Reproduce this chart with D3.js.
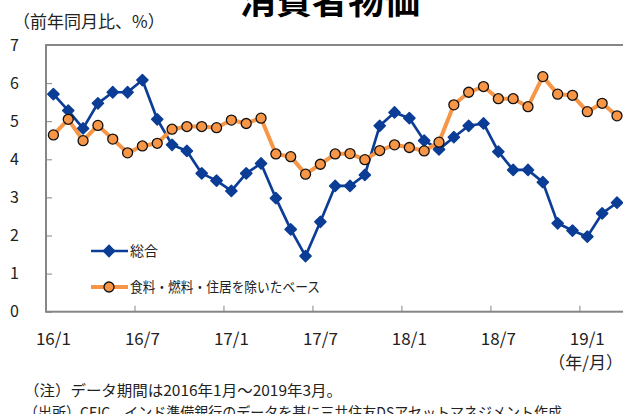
<!DOCTYPE html>
<html>
<head>
<meta charset="utf-8">
<script src="https://cdn.jsdelivr.net/npm/d3@7"></script>
<style>
  html, body { margin: 0; padding: 0; background: #fff; }
  svg { display: block; font-family: "Noto Sans CJK JP", "Noto Sans", sans-serif; }
</style>
</head>
<body>
<svg id="chart" width="623" height="414"></svg>
<script>
var months = [
    '2016-01', '2016-02', '2016-03', '2016-04', '2016-05', '2016-06',
    '2016-07', '2016-08', '2016-09', '2016-10', '2016-11', '2016-12',
    '2017-01', '2017-02', '2017-03', '2017-04', '2017-05', '2017-06',
    '2017-07', '2017-08', '2017-09', '2017-10', '2017-11', '2017-12',
    '2018-01', '2018-02', '2018-03', '2018-04', '2018-05', '2018-06',
    '2018-07', '2018-08', '2018-09', '2018-10', '2018-11', '2018-12',
    '2019-01', '2019-02', '2019-03'
];

// 総合
var headline = [
    5.71, 5.28, 4.81, 5.47, 5.76, 5.76, 6.08, 5.05, 4.38, 4.22, 3.63, 3.44,
    3.17, 3.63, 3.89, 2.98, 2.16, 1.46, 2.36, 3.30, 3.30, 3.59, 4.88, 5.23,
    5.08, 4.49, 4.26, 4.58, 4.88, 4.94, 4.20, 3.72, 3.72, 3.40, 2.32, 2.13,
    1.97, 2.58, 2.86
];

// 食料・燃料・住居を除いたベース
var core = [
    4.64, 5.05, 4.49, 4.89, 4.53, 4.17, 4.35, 4.42, 4.79, 4.86, 4.86, 4.83,
    5.03, 4.94, 5.08, 4.14, 4.07, 3.61, 3.87, 4.14, 4.15, 3.99, 4.23, 4.38,
    4.31, 4.22, 4.45, 5.43, 5.76, 5.91, 5.59, 5.59, 5.38, 6.17, 5.71, 5.68,
    5.25, 5.47, 5.14
];

var tickMonths = ['2016-01', '2016-07', '2017-01', '2017-07', '2018-01', '2018-07', '2019-01'];
var tickLabels = ['16/1', '16/7', '17/1', '17/7', '18/1', '18/7', '19/1'];
var yTicks = [0, 1, 2, 3, 4, 5, 6, 7];

var seriesNames = ['総合', '食料・燃料・住居を除いたベース'];

var blue = '#0b3d96',
    orange = '#f79646',
    axisGray = '#868686';

var svg = d3.select('#chart');

var x = d3.scaleBand().domain(months).range([46, 624.4]).padding(0),
    y = d3.scaleLinear().domain([0, 7]).range([311.7, 45]);

function cx(d, i) {
    return x(months[i]) + x.bandwidth() / 2;
}

// title (top cut off as in the original)
svg.append('text')
    .attr('x', 330)
    .attr('y', 14)
    .attr('text-anchor', 'middle')
    .attr('font-size', 36)
    .attr('font-weight', 'bold')
    .attr('fill', '#000')
    .text('消費者物価');

svg.append('text')
    .attr('x', 13)
    .attr('y', 28)
    .attr('font-size', 17)
    .attr('fill', '#222')
    .text('（前年同月比、%）');

// plot frame
svg.append('rect')
    .attr('x', x.range()[0])
    .attr('y', y(7))
    .attr('width', x.range()[1] - x.range()[0])
    .attr('height', y(0) - y(7))
    .attr('fill', 'none')
    .attr('stroke', axisGray)
    .attr('stroke-width', 2);

// y axis
var yAxis = svg.append('g')
    .attr('transform', 'translate(46,0)')
    .call(d3.axisLeft(y).tickValues(yTicks).tickFormat(d3.format('d'))
        .tickSizeInner(-6).tickSizeOuter(0).tickPadding(27));
yAxis.select('.domain').remove();
yAxis.selectAll('line').attr('stroke', axisGray).attr('stroke-width', 1);
yAxis.selectAll('text')
    .attr('font-size', 16)
    .attr('fill', '#222')
    .attr('font-family', '"Noto Sans CJK JP", sans-serif');

// x axis ticks sit on the category boundaries, labels in the category centre
var xAxis = svg.append('g');
xAxis.selectAll('line')
    .data(tickMonths.slice(1))
    .enter()
    .append('line')
        .attr('x1', function(d) { return x(d); })
        .attr('x2', function(d) { return x(d); })
        .attr('y1', y(0))
        .attr('y2', y(0) - 6)
        .attr('stroke', axisGray)
        .attr('stroke-width', 1);

xAxis.selectAll('text')
    .data(tickMonths)
    .enter()
    .append('text')
        .attr('x', function(d) { return x(d) + x.bandwidth() / 2; })
        .attr('y', 345)
        .attr('text-anchor', 'middle')
        .attr('font-size', 17)
        .attr('fill', '#222')
        .text(function(d, i) { return tickLabels[i]; });

svg.append('text')
    .attr('x', 623)
    .attr('y', 369)
    .attr('text-anchor', 'end')
    .attr('font-size', 17)
    .attr('fill', '#222')
    .text('（年/月）');

// headline series
var line = d3.line()
    .x(cx)
    .y(function(d) { return y(d); });

svg.append('path')
    .datum(headline)
    .attr('d', line)
    .attr('fill', 'none')
    .attr('stroke', blue)
    .attr('stroke-width', 2.7)
    .attr('stroke-linejoin', 'round');

var diamond = d3.symbol().type(d3.symbolDiamond2).size(80);

svg.append('g').selectAll('path')
    .data(headline)
    .enter()
    .append('path')
        .attr('d', diamond)
        .attr('transform', function(d, i) {
            return 'translate(' + cx(d, i) + ',' + y(d) + ')';
        })
        .attr('fill', blue)
        .attr('stroke', blue)
        .attr('stroke-width', 1.5)
        .attr('stroke-linejoin', 'round');

// core series
svg.append('path')
    .datum(core)
    .attr('d', line)
    .attr('fill', 'none')
    .attr('stroke', orange)
    .attr('stroke-width', 4)
    .attr('stroke-linejoin', 'round');

svg.append('g').selectAll('circle')
    .data(core)
    .enter()
    .append('circle')
        .attr('cx', cx)
        .attr('cy', function(d) { return y(d); })
        .attr('r', 5)
        .attr('fill', orange)
        .attr('stroke', '#111')
        .attr('stroke-width', 1.3);

// legend
var legend = svg.append('g');
var legendY = [251, 287];

legend.append('line')
    .attr('x1', 91).attr('x2', 128)
    .attr('y1', legendY[0]).attr('y2', legendY[0])
    .attr('stroke', blue).attr('stroke-width', 2.7);
legend.append('path')
    .attr('d', diamond)
    .attr('transform', 'translate(109,' + legendY[0] + ')')
    .attr('fill', blue).attr('stroke', blue).attr('stroke-width', 1.5);

legend.append('line')
    .attr('x1', 91).attr('x2', 128)
    .attr('y1', legendY[1]).attr('y2', legendY[1])
    .attr('stroke', orange).attr('stroke-width', 4);
legend.append('circle')
    .attr('cx', 109).attr('cy', legendY[1]).attr('r', 5)
    .attr('fill', orange).attr('stroke', '#111').attr('stroke-width', 1.3);

legend.selectAll('text')
    .data(seriesNames)
    .enter()
    .append('text')
        .attr('x', 130)
        .attr('y', function(d, i) { return legendY[i]; })
        .attr('dy', '0.36em')
        .attr('font-size', 14)
        .attr('fill', '#222')
        .attr('textLength', function(d, i) { return i === 0 ? null : 190; })
        .attr('lengthAdjust', 'spacingAndGlyphs')
        .text(function(d) { return d; });

// notes
svg.append('text')
    .attr('x', 24)
    .attr('y', 396)
    .attr('font-size', 15)
    .attr('fill', '#222')
    .attr('textLength', 318)
    .attr('lengthAdjust', 'spacingAndGlyphs')
    .text('（注）データ期間は2016年1月～2019年3月。');

svg.append('text')
    .attr('x', 24)
    .attr('y', 418)
    .attr('font-size', 15)
    .attr('fill', '#222')
    .attr('textLength', 538)
    .attr('lengthAdjust', 'spacingAndGlyphs')
    .text('（出所）CEIC、インド準備銀行のデータを基に三井住友DSアセットマネジメント作成');
</script>
</body>
</html>
